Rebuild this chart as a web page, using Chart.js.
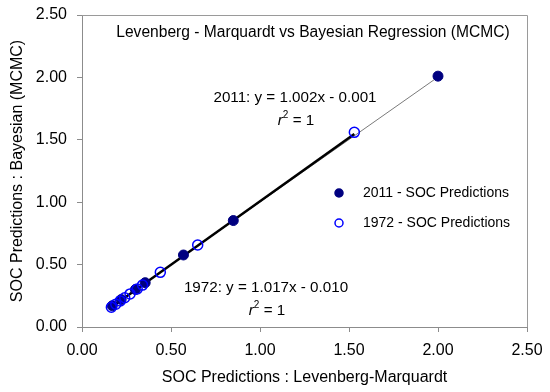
<!DOCTYPE html>
<html><head><meta charset="utf-8">
<script src="https://cdn.jsdelivr.net/npm/chart.js@4/dist/chart.umd.min.js"></script>
<style>html,body{margin:0;padding:0;background:#fff}#wrap{width:550px;height:392px}</style>
</head><body><div id="wrap"><canvas id="c" width="550" height="392"></canvas></div>
<script>
// ---- data ----
const x2011 = [0.17, 0.22, 0.30, 0.355, 0.57, 0.85, 2.00];
const y2011 = [0.17, 0.22, 0.30, 0.355, 0.577, 0.853, 2.01];
const x1972 = [0.165, 0.19, 0.215, 0.24, 0.27, 0.31, 0.34, 0.44, 0.65, 1.53];
const y1972 = [0.158, 0.183, 0.209, 0.234, 0.265, 0.305, 0.336, 0.438, 0.657, 1.56];
const fit2011 = [1.002, -0.001];   // slope, intercept
const fit1972 = [1.017, -0.010];
const axisTicks = [0, 0.5, 1.0, 1.5, 2.0, 2.5];
const seriesLabels = ['2011 - SOC Predictions', '1972 - SOC Predictions'];
const eqLabels = ['2011: y = 1.002x - 0.001', '1972: y = 1.017x - 0.010'];
const titleText = 'Levenberg - Marquardt vs Bayesian Regression (MCMC)';
const xTitle = 'SOC Predictions : Levenberg-Marquardt';
const yTitle = 'SOC Predictions : Bayesian (MCMC)';

const FONT = '"Liberation Sans", Arial, sans-serif';
const pts = (xs, ys) => xs.map((x, i) => ({x, y: ys[i]}));
const fitLine = (xs, f) => {
  const lo = Math.min(...xs), hi = Math.max(...xs);
  return [{x: lo, y: f[0]*lo + f[1]}, {x: hi, y: f[0]*hi + f[1]}];
};

const overlay = {
  id: 'overlay',
  afterDraw(chart) {
    const {ctx, chartArea: a} = chart;
    ctx.save();
    // plot border top & right
    ctx.strokeStyle = '#9a9a9a'; ctx.lineWidth = 1;
    ctx.beginPath();
    ctx.moveTo(a.left, a.top + 0.5); ctx.lineTo(a.right + 0.5, a.top + 0.5);
    ctx.lineTo(a.right + 0.5, a.bottom);
    ctx.stroke();
    ctx.fillStyle = '#000';
    ctx.textBaseline = 'middle';
    ctx.font = '15.6px ' + FONT;
    ctx.textAlign = 'center';
    ctx.fillText(titleText, 313, 33);
    // equations
    const eq = (txt, cx, cy) => { ctx.font = '15.2px ' + FONT; ctx.textAlign = 'center'; ctx.fillText(txt, cx, cy); };
    const r2 = (cx, cy) => {
      ctx.textAlign = 'left';
      ctx.font = 'italic 15.2px ' + FONT; const w1 = ctx.measureText('r').width;
      ctx.font = '10px ' + FONT; const w2 = ctx.measureText('2').width;
      ctx.font = '15.2px ' + FONT; const w3 = ctx.measureText(' = 1').width;
      let x = cx - (w1 + w2 + w3) / 2;
      ctx.font = 'italic 15.2px ' + FONT; ctx.fillText('r', x, cy); x += w1;
      ctx.font = '10px ' + FONT; ctx.fillText('2', x, cy - 6); x += w2;
      ctx.font = '15.2px ' + FONT; ctx.fillText(' = 1', x, cy);
    };
    eq(eqLabels[0], 295, 98); r2(296, 121);
    eq(eqLabels[1], 266, 288); r2(267, 311);
    // legend
    const ds = chart.data.datasets;
    [0, 1].forEach((k, i) => {
      const d = ds[k];
      const y = 193 + i * 30;
      ctx.beginPath();
      ctx.arc(339, y, 4, 0, Math.PI * 2);
      ctx.fillStyle = d.backgroundColor; ctx.fill();
      ctx.strokeStyle = d.borderColor; ctx.lineWidth = 1.5; ctx.stroke();
      ctx.fillStyle = '#000'; ctx.font = '14px ' + FONT; ctx.textAlign = 'left';
      ctx.fillText(seriesLabels[k], 363, y);
    });
    ctx.restore();
  }
};

const tickFont = {family: FONT, size: 16};
const fmt = v => Number(v).toFixed(2);

new Chart(document.getElementById('c'), {
  type: 'scatter',
  data: {
    datasets: [
      {label: seriesLabels[0], data: pts(x2011, y2011), backgroundColor: '#000080', borderColor: '#000080',
       pointRadius: 5, pointBorderWidth: 1, order: 1},
      {label: seriesLabels[1], data: pts(x1972, y1972), backgroundColor: 'rgba(255,255,255,0)', borderColor: '#0000ff',
       pointRadius: 5, pointBorderWidth: 1.5, order: 0},
      {type: 'line', label: 'fit2011', data: fitLine(x2011, fit2011), borderColor: '#7a7a7a', borderWidth: 1,
       pointRadius: 0, showLine: true, order: 3},
      {type: 'line', label: 'fit1972', data: fitLine(x1972, fit1972), borderColor: '#000', borderWidth: 2.5,
       pointRadius: 0, showLine: true, order: 2}
    ]
  },
  options: {
    responsive: false, animation: false, devicePixelRatio: 1,
    layout: {padding: {top: 15, right: 23, left: 0, bottom: 0}},
    plugins: {legend: {display: false}, tooltip: {enabled: false}},
    scales: {
      x: {
        type: 'linear', min: axisTicks[0], max: axisTicks[axisTicks.length - 1],
        afterBuildTicks: s => { s.ticks = axisTicks.map(v => ({value: v})); },
        ticks: {font: tickFont, color: '#000', padding: 9, callback: fmt},
        grid: {drawOnChartArea: false, drawTicks: true, tickLength: 5, color: '#8c8c8c'},
        border: {color: '#8c8c8c', width: 1},
        title: {display: true, text: xTitle, font: {family: FONT, size: 16}, color: '#000', padding: {top: 0, bottom: 5}},
        afterFit: s => { s.height = 65; s.paddingLeft = 0; s.paddingRight = 0; }
      },
      y: {
        type: 'linear', min: axisTicks[0], max: axisTicks[axisTicks.length - 1],
        afterBuildTicks: s => { s.ticks = axisTicks.map(v => ({value: v})); },
        ticks: {font: tickFont, color: '#000', padding: 10, callback: fmt},
        grid: {drawOnChartArea: false, drawTicks: true, tickLength: 5, color: '#8c8c8c'},
        border: {color: '#8c8c8c', width: 1},
        title: {display: true, text: yTitle, font: {family: FONT, size: 16}, color: '#000', padding: {top: 8, bottom: 0}},
        afterFit: s => { s.width = 82; s.paddingTop = 0; s.paddingBottom = 0; }
      }
    }
  },
  plugins: [overlay]
});
</script></body></html>
